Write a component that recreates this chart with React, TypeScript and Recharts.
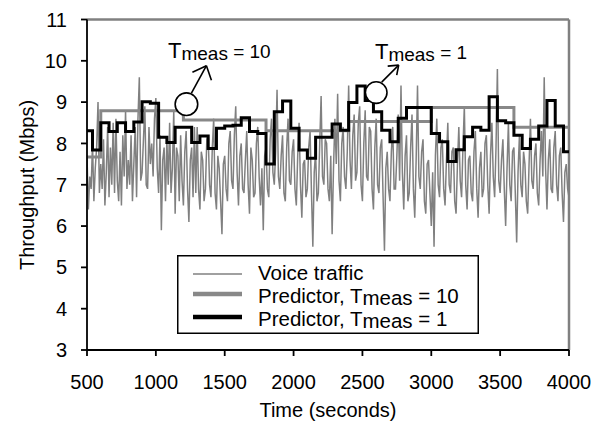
import React from 'react';
import { LineChart, Line, XAxis, YAxis, ReferenceLine, ReferenceDot, Legend, Label } from 'recharts';

const FONT = '"Liberation Sans", Arial, Helvetica, sans-serif';

// Voice traffic, sampled every 10 s from 500 s to 4000 s
const voiceStart = 500;
const voiceStep = 10;
const voiceValues = [
  7.7, 6.4, 7.2, 6.9, 8.0, 6.6, 7.4, 7.9, 9.0, 6.8,
  7.5, 6.9, 8.1, 6.5, 7.3, 8.4, 6.7, 7.9, 7.0, 8.5,
  6.8, 8.6, 7.1, 6.6, 7.8, 6.5, 8.2, 7.2, 8.8, 6.9,
  7.6, 7.0, 8.2, 6.6, 7.5, 8.4, 6.7, 8.6, 9.6, 7.1,
  7.3, 8.1, 8.9, 7.0, 6.9, 8.4, 7.5, 8.0, 7.2, 8.6,
  9.1, 7.4, 6.8, 8.2, 5.9, 7.6, 7.9, 6.6, 8.1, 7.0,
  8.5, 6.8, 7.4, 8.8, 6.3, 7.9, 7.7, 6.6, 8.2, 7.1,
  6.5, 7.8, 8.3, 6.9, 6.1, 7.6, 7.9, 6.7, 8.4, 6.8,
  8.4, 6.9, 6.4, 7.8, 7.6, 6.6, 6.9, 8.1, 8.2, 7.0,
  6.7, 7.9, 8.6, 6.8, 6.4, 7.7, 7.4, 6.6, 5.8, 7.5,
  7.7, 6.9, 6.6, 8.0, 8.3, 7.1, 6.9, 8.2, 8.9, 7.3,
  6.5, 7.7, 8.0, 6.9, 6.8, 7.6, 8.3, 7.0, 6.3, 7.9,
  7.6, 6.7, 6.8, 8.0, 8.4, 7.2, 6.5, 7.4, 5.9, 7.7,
  7.9, 6.9, 6.7, 8.1, 8.6, 7.3, 7.0, 7.8, 9.3, 7.2,
  6.9, 7.7, 8.2, 6.8, 6.6, 7.9, 8.6, 7.1, 7.0, 7.8,
  8.1, 6.9, 6.5, 7.7, 8.5, 7.0, 6.2, 7.5, 7.6, 6.7,
  6.9, 7.9, 8.3, 6.8, 5.5, 7.3, 7.8, 6.6, 6.8, 8.0,
  9.15, 7.2, 7.0, 8.1, 8.0, 6.9, 6.6, 7.7, 5.8, 7.4,
  8.6, 7.5, 9.2, 7.1, 6.6, 8.0, 8.4, 7.2, 6.9, 7.8,
  9.4, 7.6, 6.9, 8.2, 8.7, 7.1, 7.3, 8.5, 8.9, 7.0,
  6.6, 8.0, 8.8, 7.2, 7.1, 8.4, 8.3, 6.9, 6.4, 7.9,
  8.6, 7.0, 6.8, 7.9, 8.1, 6.7, 5.4, 7.4, 7.8, 6.9,
  6.6, 7.8, 8.4, 6.9, 6.9, 7.7, 8.7, 7.1, 9.4, 7.3,
  6.4, 7.7, 8.2, 6.6, 6.8, 7.9, 8.7, 6.9, 6.2, 7.6,
  9.4, 7.2, 6.9, 7.8, 8.1, 6.6, 6.3, 7.5, 7.6, 6.8,
  6.0, 7.3, 5.5, 7.7, 8.6, 7.0, 6.7, 7.9, 8.1, 6.9,
  6.5, 7.6, 8.5, 7.0, 6.8, 7.8, 7.9, 6.6, 6.3, 7.5,
  8.4, 7.1, 6.7, 7.9, 8.9, 7.0, 6.4, 7.6, 7.7, 6.8,
  6.6, 7.8, 8.3, 6.9, 6.2, 7.4, 7.8, 6.7, 6.9, 8.0,
  8.2, 7.0, 6.3, 7.7, 8.5, 7.2, 6.7, 7.9, 9.8, 7.1,
  6.8, 7.6, 8.1, 6.9, 6.0, 7.4, 8.5, 7.0, 6.6, 7.8,
  7.9, 6.8, 5.6, 7.3, 8.2, 7.0, 6.7, 7.8, 7.5, 6.6,
  6.3, 7.5, 8.6, 7.1, 6.9, 7.7, 8.0, 6.8, 6.5, 7.6,
  8.3, 7.2, 9.6, 7.4, 6.4, 7.6, 8.1, 6.9, 6.8, 7.9,
  8.3, 7.0, 6.6, 7.7, 7.9, 6.8, 6.1, 7.3, 7.5, 6.9,
  6.7,
];

// Predictor, Tmeas = 10 (step starts)
const pred10Times = [500, 600, 1200, 1800, 2400, 3000, 3600, 4000];
const pred10Values = [7.67, 8.79, 8.57, 8.31, 8.53, 8.87, 8.39, 8.39];

// Predictor, Tmeas = 1 (step starts)
const pred1Times = [
  500, 540, 600, 660, 720, 780, 840, 900, 960, 1020,
  1080, 1140, 1200, 1260, 1320, 1380, 1440, 1500, 1560, 1620,
  1680, 1740, 1800, 1860, 1920, 1980, 2040, 2100, 2160, 2220,
  2280, 2340, 2400, 2460, 2520, 2580, 2640, 2700, 2760, 2820,
  2880, 2940, 3000, 3060, 3120, 3180, 3240, 3300, 3360, 3420,
  3480, 3540, 3600, 3660, 3720, 3780, 3840, 3900, 3960, 4000,
];
const pred1Values = [
  8.31, 7.84, 8.50, 8.29, 8.50, 8.29, 8.52, 9.01, 8.97, 8.15,
  8.02, 8.39, 8.39, 8.02, 8.18, 7.88, 8.37, 8.42, 8.44, 8.62,
  8.29, 8.24, 7.50, 8.77, 9.03, 8.37, 7.84, 7.64, 8.15, 8.15,
  8.47, 8.32, 8.99, 9.39, 9.04, 8.77, 8.32, 8.04, 8.61, 8.87,
  8.87, 8.87, 8.24, 8.04, 7.56, 7.85, 8.16, 8.39, 8.32, 9.13,
  8.55, 8.50, 8.20, 7.88, 8.10, 8.42, 9.04, 8.42, 7.80, 7.80,
];

const xTicks = [500, 1000, 1500, 2000, 2500, 3000, 3500, 4000];
const yTicks = [3, 4, 5, 6, 7, 8, 9, 10, 11];

const voiceData = voiceValues.map((v, i) => ({ t: voiceStart + i * voiceStep, v }));
const pred10Data = pred10Times.map((t, i) => ({ t, v: pred10Values[i] }));
const pred1Data = pred1Times.map((t, i) => ({ t, v: pred1Values[i] }));

// annotation anchors (data coordinates) and arrow geometry (pixels, relative to circle centre)
const notes = [
  { textT: 1088, textV: 10.07, sub: '10', circleT: 1222, circleV: 8.95, r: 11.3,
    arrow: { x1: 5, y1: -11, x2: 20, y2: -38.5, ax: 6, ay: -32, bx: 25, by: -24 } },
  { textT: 2591, textV: 10.04, sub: '1', circleT: 2600, circleV: 9.23, r: 10.8,
    arrow: { x1: 5.5, y1: -10.5, x2: 22.5, y2: -27.5, ax: 11.5, ay: -26.5, bx: 20.5, by: -17.5 } },
];

const NoteText = (props: any) => {
  const { viewBox, sub } = props;
  const x = viewBox.x;
  const y = viewBox.y;
  return (
    <text x={x} y={y} fontFamily={FONT} fontSize={19} fill="#000">
      <tspan fontSize={22}>T</tspan>
      <tspan dy={2}>meas</tspan>
      <tspan dy={-2}>{` = ${sub}`}</tspan>
    </text>
  );
};

const makeCircleArrow = (a: any) => (props: any) => {
  const { cx, cy, r } = props;
  return (
    <g>
      <circle cx={cx} cy={cy} r={r} fill="#fff" stroke="#000" strokeWidth={1.6} />
      <line x1={cx + a.x1} y1={cy + a.y1} x2={cx + a.x2} y2={cy + a.y2} stroke="#000" strokeWidth={1.6} />
      <line x1={cx + a.ax} y1={cy + a.ay} x2={cx + a.x2} y2={cy + a.y2} stroke="#000" strokeWidth={1.6} />
      <line x1={cx + a.bx} y1={cy + a.by} x2={cx + a.x2} y2={cy + a.y2} stroke="#000" strokeWidth={1.6} />
    </g>
  );
};

const LegendRow = ({ y, sub }: { y: number; sub: string }) => (
  <text x={81} y={y} fontFamily={FONT} fontSize={20.5} fill="#000">
    <tspan>Predictor, T</tspan>
    <tspan dy={2}>meas</tspan>
    <tspan dy={-2}>{` = ${sub}`}</tspan>
  </text>
);

const LegendBox = () => (
  <svg width={302} height={79} style={{ display: 'block' }}>
    <rect x={0.75} y={0.75} width={300.5} height={77.5} fill="#fff" stroke="#000" strokeWidth={1.5} />
    <line x1={16} x2={65} y1={19} y2={19} stroke="#808080" strokeWidth={1.5} />
    <line x1={16} x2={65} y1={39} y2={39} stroke="#888888" strokeWidth={4.5} />
    <line x1={16} x2={65} y1={62} y2={62} stroke="#000" strokeWidth={4.5} />
    <text x={81} y={25} fontFamily={FONT} fontSize={20.5} fill="#000">Voice traffic</text>
    <LegendRow y={48} sub="10" />
    <LegendRow y={71} sub="1" />
  </svg>
);

export default function App() {
  return (
    <div style={{ position: 'absolute', left: 0, top: 0, width: 595, height: 426, background: '#fff' }}>
      <LineChart width={595} height={426} margin={{ top: 19.5, right: 26, bottom: 0, left: 0 }}>
        <XAxis
          dataKey="t"
          type="number"
          domain={[500, 4000]}
          ticks={xTicks}
          allowDataOverflow
          height={76}
          tickSize={6}
          tickMargin={19}
          axisLine={{ stroke: '#000', strokeWidth: 1.8 }}
          tickLine={{ stroke: '#000', strokeWidth: 1.8 }}
          tick={{ fill: '#000', fontSize: 20, fontFamily: FONT }}
        >
          <Label
            content={() => (
              <text x={328} y={417} textAnchor="middle" fontFamily={FONT} fontSize={20} fill="#000">
                Time (seconds)
              </text>
            )}
          />
        </XAxis>
        <YAxis
          type="number"
          domain={[3, 11]}
          ticks={yTicks}
          allowDataOverflow
          width={87}
          tickSize={6}
          tickMargin={14}
          axisLine={{ stroke: '#000', strokeWidth: 1.8 }}
          tickLine={{ stroke: '#000', strokeWidth: 1.8 }}
          tick={{ fill: '#000', fontSize: 20, fontFamily: FONT }}
        >
          <Label
            content={() => (
              <text
                x={27}
                y={185}
                textAnchor="middle"
                dominantBaseline="central"
                transform="rotate(-90, 27, 185)"
                fontFamily={FONT}
                fontSize={20}
                fill="#000"
              >
                Throughput (Mbps)
              </text>
            )}
          />
        </YAxis>
        <ReferenceLine y={11} stroke="#808080" strokeWidth={2.5} />
        <ReferenceLine x={4000} stroke="#808080" strokeWidth={2.5} />
        <Line
          data={voiceData}
          dataKey="v"
          type="linear"
          stroke="#808080"
          strokeWidth={1.5}
          dot={false}
          isAnimationActive={false}
          name="Voice traffic"
        />
        <Line
          data={pred10Data}
          dataKey="v"
          type="stepAfter"
          stroke="#888888"
          strokeWidth={3}
          dot={false}
          isAnimationActive={false}
          name="Predictor, Tmeas = 10"
        />
        <Line
          data={pred1Data}
          dataKey="v"
          type="stepAfter"
          stroke="#000"
          strokeWidth={3}
          dot={false}
          isAnimationActive={false}
          name="Predictor, Tmeas = 1"
        />
        {notes.map((n, i) => (
          <ReferenceDot
            key={`c${i}`}
            x={n.circleT}
            y={n.circleV}
            r={n.r}
            fill="#fff"
            stroke="#000"
            shape={makeCircleArrow(n.arrow)}
          />
        ))}
        {notes.map((n, i) => (
          <ReferenceDot
            key={`t${i}`}
            x={n.textT}
            y={n.textV}
            r={0}
            fill="none"
            stroke="none"
            label={{ content: (p: any) => <NoteText {...p} sub={n.sub} /> }}
          />
        ))}
        <Legend
          layout="horizontal"
          verticalAlign="middle"
          align="center"
          wrapperStyle={{ position: 'absolute', left: 177, top: 255, width: 302, height: 79 }}
          content={() => <LegendBox />}
        />
      </LineChart>
    </div>
  );
}
